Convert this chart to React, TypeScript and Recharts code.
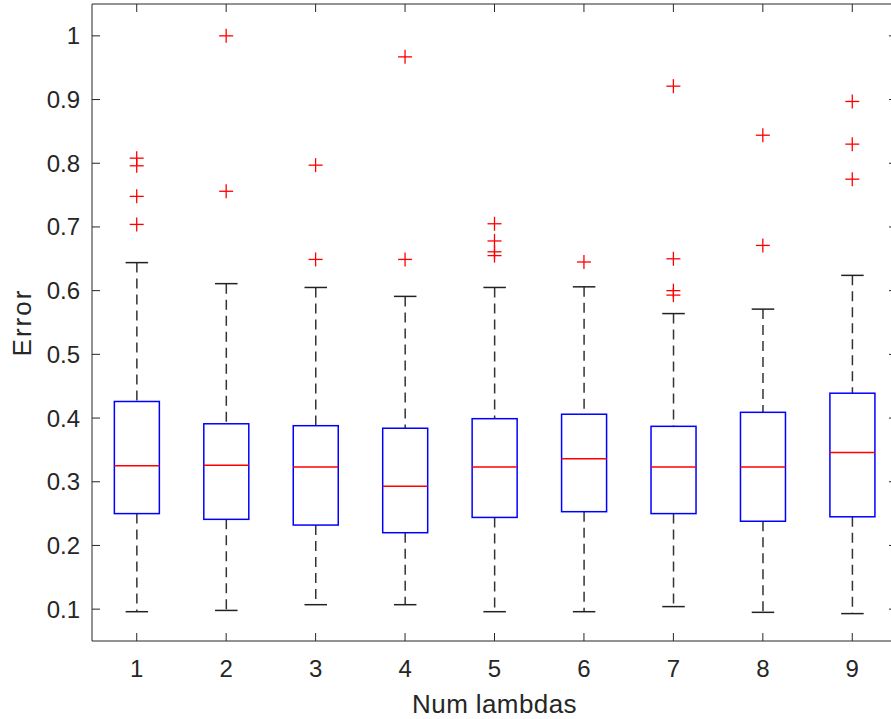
import { ComposedChart, Bar, Scatter, XAxis, YAxis } from 'recharts'

const GROUPS = [1, 2, 3, 4, 5, 6, 7, 8, 9]
const LOWER_WHISKER = [0.096, 0.098, 0.107, 0.107, 0.096, 0.096, 0.104, 0.095, 0.093]
const Q1 = [0.25, 0.241, 0.232, 0.22, 0.244, 0.253, 0.25, 0.238, 0.245]
const MEDIAN = [0.325, 0.326, 0.323, 0.293, 0.323, 0.336, 0.323, 0.323, 0.346]
const Q3 = [0.426, 0.391, 0.388, 0.384, 0.399, 0.406, 0.387, 0.409, 0.439]
const UPPER_WHISKER = [0.644, 0.611, 0.605, 0.591, 0.605, 0.606, 0.564, 0.571, 0.624]
const OUTLIERS = [
  [0.808, 0.796, 0.748, 0.704],
  [1.0, 0.756],
  [0.797, 0.649],
  [0.967, 0.649],
  [0.705, 0.678, 0.661, 0.655],
  [0.645],
  [0.921, 0.65, 0.6, 0.593],
  [0.844, 0.671],
  [0.897, 0.83, 0.775],
]
const Y_TICKS = [0.1, 0.2, 0.3, 0.4, 0.5, 0.6, 0.7, 0.8, 0.9, 1]
const X_DOMAIN = [0.5, 9.5]
const Y_DOMAIN = [0.05, 1.05]

const INK = '#262626'
const BOX = '#0000ff'
const RED = '#ff0000'
const FONT = '"Liberation Sans", Arial, Helvetica, sans-serif'

const boxes = GROUPS.map((g, i) => ({
  x: g,
  range: [LOWER_WHISKER[i], UPPER_WHISKER[i]],
  lo: LOWER_WHISKER[i],
  q1: Q1[i],
  med: MEDIAN[i],
  q3: Q3[i],
  hi: UPPER_WHISKER[i],
}))

const outliers = GROUPS.flatMap((g, i) => OUTLIERS[i].map((v) => ({ x: g, y: v })))

// the bar spans lo..hi, so the other stats are placed along the same linear scale
function BoxShape(props: any) {
  const { x, y, width, height, payload } = props
  if (!payload || !height) return null
  const { lo, q1, med, q3, hi } = payload
  const k = height / (hi - lo)
  const py = (v: number) => y + (hi - v) * k
  const cx = x + width / 2
  const cap = width / 4
  return (
    <g>
      <line x1={cx} x2={cx} y1={py(hi)} y2={py(q3)} stroke="#333" strokeWidth={1.5} strokeDasharray="10 6" />
      <line x1={cx} x2={cx} y1={py(q1)} y2={py(lo)} stroke="#333" strokeWidth={1.5} strokeDasharray="10 6" />
      <line x1={cx - cap} x2={cx + cap} y1={py(hi)} y2={py(hi)} stroke="#222" strokeWidth={1.5} />
      <line x1={cx - cap} x2={cx + cap} y1={py(lo)} y2={py(lo)} stroke="#222" strokeWidth={1.5} />
      <rect x={x} y={py(q3)} width={width} height={py(q1) - py(q3)} fill="none" stroke={BOX} strokeWidth={1.5} />
      <line x1={x} x2={x + width} y1={py(med)} y2={py(med)} stroke={RED} strokeWidth={1.5} />
    </g>
  )
}

function PlusShape(props: any) {
  const { cx, cy } = props
  const r = 7
  return (
    <g stroke={RED} strokeWidth={1.3}>
      <line x1={cx - r} x2={cx + r} y1={cy} y2={cy} />
      <line x1={cx} x2={cx} y1={cy - r} y2={cy + r} />
    </g>
  )
}

// keeps the tick marks of the mirrored box axes but draws no label
const NoLabel = () => <g />

export default function App() {
  const tick = { fontSize: 24, fill: INK, fontFamily: FONT }
  return (
    <div style={{ position: 'absolute', left: 0, top: 0, width: 891, height: 719, background: '#fff' }}>
      <ComposedChart
        width={891}
        height={719}
        data={boxes}
        margin={{ top: 3, right: -7, bottom: 0, left: 0 }}
        barCategoryGap="25%"
      >
        <XAxis
          dataKey="x"
          type="number"
          domain={X_DOMAIN}
          ticks={GROUPS}
          allowDataOverflow
          height={78}
          tickSize={-8}
          tickMargin={27}
          tick={tick}
          stroke={INK}
          tickLine={{ stroke: INK }}
          label={{ value: 'Num lambdas', position: 'insideBottom', offset: 6, fill: INK, fontSize: 26, fontFamily: FONT, letterSpacing: 0.4 }}
        />
        <XAxis
          xAxisId="top"
          dataKey="x"
          orientation="top"
          type="number"
          domain={X_DOMAIN}
          ticks={GROUPS}
          allowDataOverflow
          interval={0}
          height={1}
          tickSize={-8}
          tickMargin={0}
          tick={NoLabel}
          stroke={INK}
          tickLine={{ stroke: INK }}
        />
        <YAxis
          type="number"
          domain={Y_DOMAIN}
          ticks={Y_TICKS}
          allowDataOverflow
          width={92}
          tickSize={-8}
          tickMargin={20}
          tick={tick}
          stroke={INK}
          tickLine={{ stroke: INK }}
          label={{ value: 'Error', angle: -90, position: 'insideLeft', offset: 22, fill: INK, fontSize: 26, fontFamily: FONT, letterSpacing: 2, style: { textAnchor: 'middle' } }}
        />
        <YAxis
          yAxisId="right"
          orientation="right"
          type="number"
          domain={Y_DOMAIN}
          ticks={Y_TICKS}
          allowDataOverflow
          interval={0}
          width={1}
          tickSize={-8}
          tickMargin={0}
          tick={NoLabel}
          stroke={INK}
          tickLine={{ stroke: INK }}
        />
        <Bar dataKey="range" shape={BoxShape} isAnimationActive={false} />
        <Scatter
          data={outliers}
          dataKey="y"
          xAxisId="top"
          yAxisId="right"
          shape={PlusShape}
          isAnimationActive={false}
        />
      </ComposedChart>
    </div>
  )
}
